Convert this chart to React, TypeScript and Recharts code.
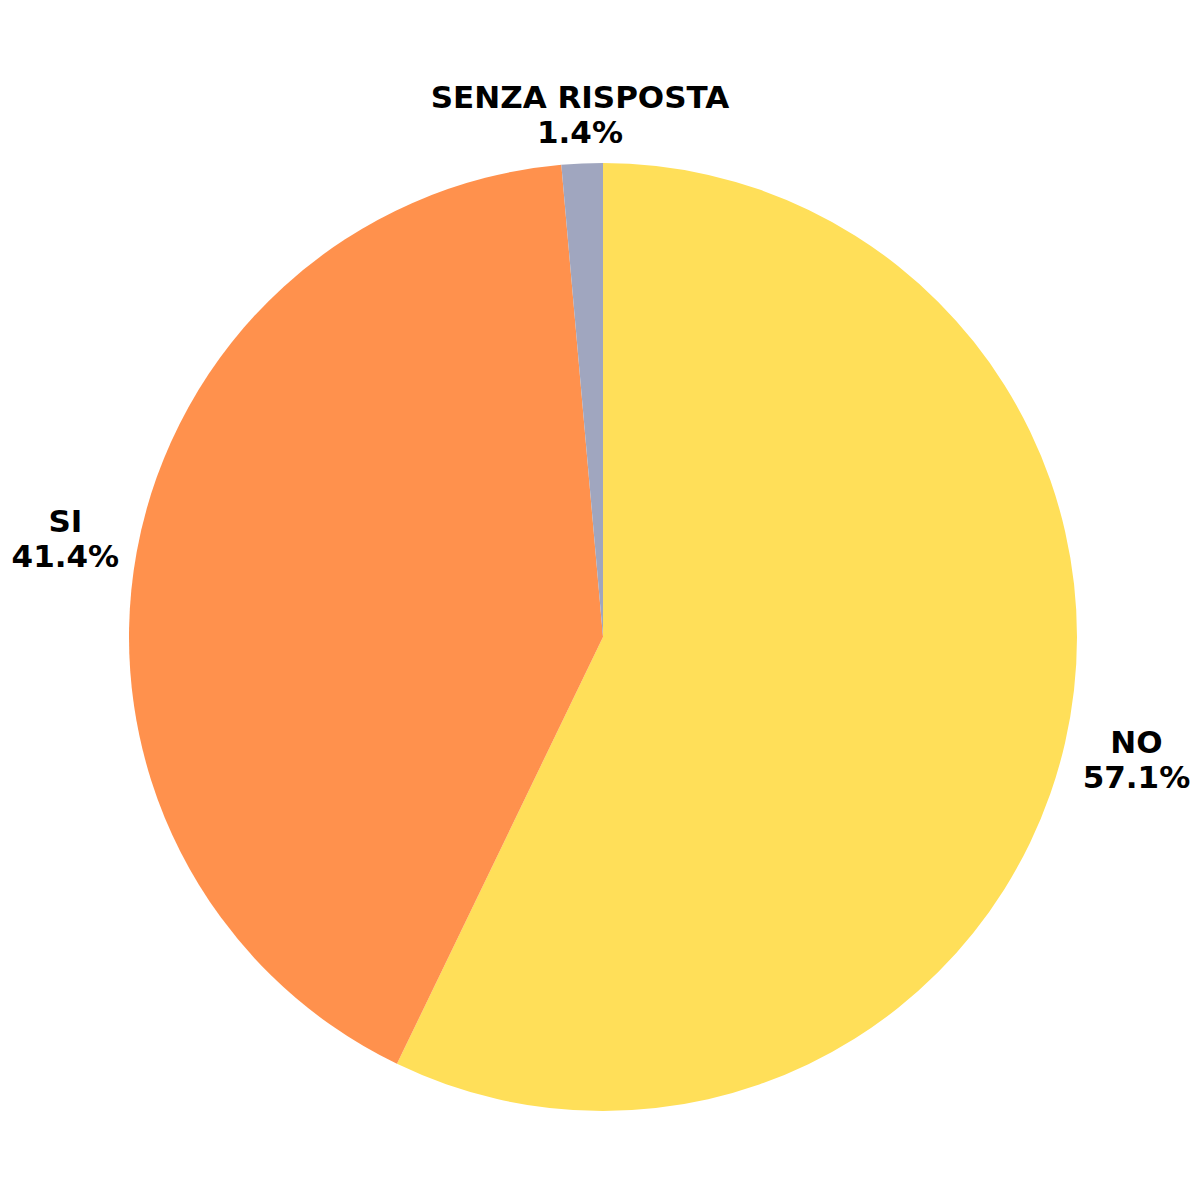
import { PieChart, Pie, Cell } from "recharts";

const categories = ["NO", "SI", "SENZA RISPOSTA"];
const shares = [57.1, 41.4, 1.4];
const colors = ["#FFDF59", "#FF914D", "#A0A6BF"];

const data = categories.map((name, i) => ({ name, value: shares[i] }));

const FONT_SIZE = 31;
const LINE_GAP = 35;
const RAD = Math.PI / 180;

// places the two-line label so that its box sits just outside the slice
function renderLabel(props: any) {
	const { cx, cy, midAngle, outerRadius, name, value } = props;
	const pct = `${Number(value).toFixed(1)}%`;
	const halfW = (Math.max(name.length, pct.length) * FONT_SIZE * 0.68) / 2;
	const halfH = LINE_GAP * 0.75;
	const cos = Math.cos(-midAngle * RAD);
	const sin = Math.sin(-midAngle * RAD);
	const dist = outerRadius + 16 + halfW * Math.abs(cos) + halfH * Math.abs(sin);
	const x = cx + dist * cos;
	const y = cy + dist * sin;
	return (
		<text
			x={x}
			y={y}
			textAnchor="middle"
			fill="#000"
			fontFamily="'DejaVu Sans', sans-serif"
			fontWeight={700}
			fontSize={FONT_SIZE}
		>
			<tspan x={x} y={y - LINE_GAP / 2} dominantBaseline="central">
				{name}
			</tspan>
			<tspan x={x} y={y + LINE_GAP / 2} dominantBaseline="central">
				{pct}
			</tspan>
		</text>
	);
}

export default function App() {
	return (
		<div style={{ position: "absolute", left: 0, top: 0, width: 1200, height: 1200, background: "#fff" }}>
			<PieChart width={1200} height={1200} margin={{ top: 0, right: 0, bottom: 0, left: 0 }}>
				<Pie
					data={data}
					dataKey="value"
					nameKey="name"
					cx={603}
					cy={637}
					outerRadius={474}
					startAngle={90}
					endAngle={-270}
					stroke="none"
					label={renderLabel}
					labelLine={false}
					isAnimationActive={false}
				>
					{data.map((d, i) => (
						<Cell key={d.name} fill={colors[i]} />
					))}
				</Pie>
			</PieChart>
		</div>
	);
}
